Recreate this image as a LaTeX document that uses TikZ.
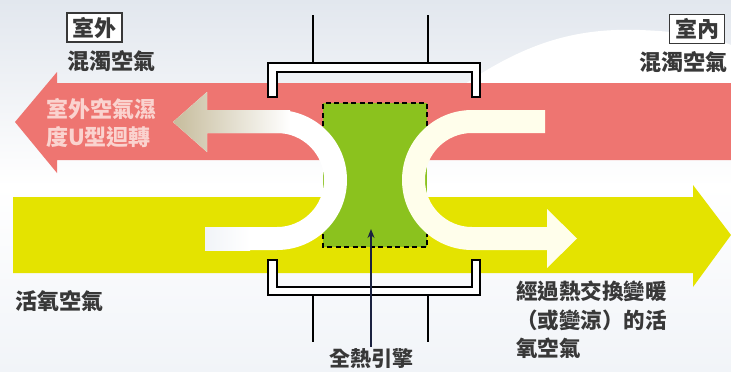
\documentclass[tikz,border=0pt]{standalone}
\usepackage{fontspec}
\newfontfamily\cjk{Noto Sans CJK TC}
\usetikzlibrary{arrows.meta}
\definecolor{bgtop}{HTML}{E2E7EE}
\definecolor{bgbot}{HTML}{F1F4F8}
\definecolor{redband}{HTML}{EE7571}
\definecolor{yelband}{HTML}{E4E300}
\definecolor{greenc}{HTML}{8BC21E}
\definecolor{tanc}{HTML}{C6BC9C}
\definecolor{txt}{HTML}{383838}
\definecolor{pinktxt}{HTML}{FAD3CF}
\definecolor{navy}{HTML}{1B2240}
\tikzset{
  lbl/.style={font=\cjk\bfseries\fontsize{22}{28.5}\selectfont, text=txt, inner sep=0pt},
  tagbox/.style={lbl, draw=txt, line width=1.4pt, minimum width=55pt, minimum height=29pt, fill=white},
  bracket/.style={draw=black, fill=white, line width=2.4pt, line join=miter},
  stem/.style={draw=black, line width=2.2pt},
  coreedge/.style={draw=black, line width=1.6pt, dash pattern=on 5pt off 3.5pt},
}
\begin{document}
\begin{tikzpicture}[x=1pt,y=-1pt]
\useasboundingbox (0,0) rectangle (731,372);
% background
\shade[top color=bgtop, bottom color=bgbot, middle color=white] (0,0) rectangle (731,372);
\fill[white] (465,84) .. controls (530,40) and (580,28) .. (640,30) .. controls (690,32) and (715,38) .. (731,45) -- (731,84) -- cycle;
% red band arrow (leftwards)
\fill[redband] (731,83) -- (57,83) -- (57,72) -- (15,122) -- (57,173) -- (57,160) -- (731,160) -- cycle;
% yellow band arrow (rightwards)
\fill[yelband] (13,197) -- (693,197) -- (693,185) -- (731,235) -- (693,287) -- (693,273) -- (13,273) -- cycle;
% green heat exchanger core
\fill[greenc] (323,103) rectangle (427,247);
\draw[coreedge] (323,126) -- (323,103) -- (427,103) -- (427,126);
\draw[coreedge] (323,234) -- (323,247) -- (427,247) -- (427,234);
% left U-turn arrow
\fill[white] (205,250) -- (277,250) arc[start angle=90, end angle=-90, radius=70] -- (207,110) -- (207,92) -- (173,122) -- (207,152) -- (207,133) -- (277,133) arc[start angle=-90, end angle=90, radius=47] -- (205,227) -- cycle;
\shade[left color=tanc, right color=white] (290,110) -- (207,110) -- (207,92) -- (173,122) -- (207,152) -- (207,133) -- (290,133) -- cycle;
\shade[left color=bgbot, right color=white] (205,227) rectangle (250,250);
% right U-turn arrow
\fill[white!92!yellow] (545,110) -- (472,110) arc[start angle=-90, end angle=-270, radius=70] -- (547,250) -- (547,268) -- (577,238.5) -- (547,209) -- (547,227) -- (472,227) arc[start angle=90, end angle=270, radius=47] -- (545,133) -- cycle;
% brackets
\draw[stem] (313,15) -- (313,63);
\draw[stem] (428,15) -- (428,63);
\draw[stem] (313,295) -- (313,342);
\draw[stem] (428,295) -- (428,342);
\draw[bracket] (268,97) -- (268,63) -- (480,63) -- (480,97) -- (472,97) -- (472,72) -- (277,72) -- (277,97) -- cycle;
\draw[bracket] (268,260) -- (268,295) -- (480,295) -- (480,260) -- (472,260) -- (472,287) -- (277,287) -- (277,260) -- cycle;
% labels
\node[tagbox] (outtag) at (94.5,27.5) {室外};
\node[lbl, anchor=west] (outair) at (67,61) {混濁空氣};
\node[tagbox] (intag) at (697,29) {室內};
\node[lbl, anchor=east] (inair) at (728,62) {混濁空氣};
\node[lbl, text=pinktxt, anchor=north west, align=left] (uturn) at (46,98) {室外空氣濕\\度U型迴轉};
\node[lbl, anchor=west] (fresh) at (15,301) {活氧空氣};
\node[lbl, anchor=north west, align=left, font=\cjk\bfseries\fontsize{21.5}{28.5}\selectfont] (warm) at (516,281) {經過熱交換變暖\\（或變涼）的活\\氧空氣};
\node[lbl, font=\cjk\bfseries\fontsize{21}{24}\selectfont] (engine) at (371,359) {全熱引擎};
\coordinate (coretip) at (371,229);
\draw[navy, line width=1.6pt, -{Stealth[length=9pt,width=7pt]}] (engine.north) ++(0,-2) -- (coretip);
\end{tikzpicture}
\end{document}
